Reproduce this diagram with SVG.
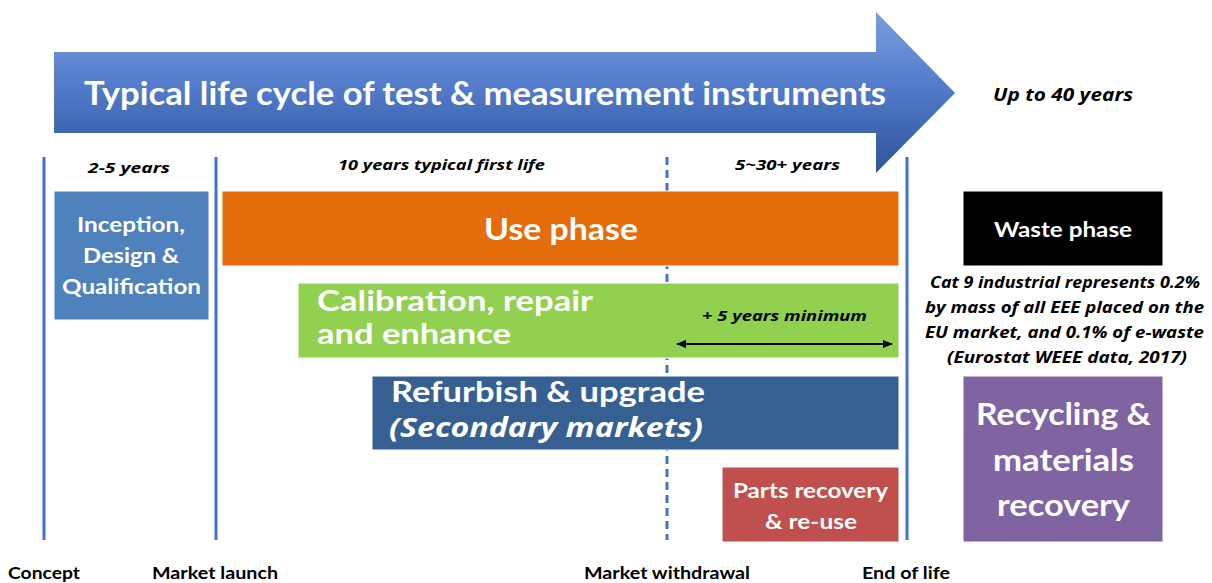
<svg xmlns="http://www.w3.org/2000/svg" width="1212" height="583" viewBox="0 0 1212 583">
<style>
text{font-family:Lato,"Open Sans","Liberation Sans",sans-serif;font-weight:bold}
text.it{font-family:"Open Sans",Lato,"Liberation Sans",sans-serif;font-style:italic}
.w{fill:#fff}
.k{fill:#000}
.mid{text-anchor:middle}
.vl{stroke:#4472c4;stroke-width:3;fill:none}
.box{stroke:#fff;stroke-width:1}
</style>
<defs>
<linearGradient id="ag" x1="0" y1="0" x2="0" y2="1">
<stop offset="0" stop-color="#7a9fdd"/>
<stop offset="0.5" stop-color="#4f78c8"/>
<stop offset="1" stop-color="#2f5597"/>
</linearGradient>
<marker id="ah" viewBox="0 0 10 10" refX="9" refY="5" markerWidth="5" markerHeight="5" orient="auto-start-reverse">
<path d="M0,1 L10,5 L0,9 z" fill="#000"/>
</marker>
</defs>

<g id="title-arrow">
<path d="M54,52 H876 V12 L955,93 L876,173 V133 H54 Z" fill="url(#ag)"/>
<text class="w mid" x="485" y="105" font-size="32" textLength="802" lengthAdjust="spacingAndGlyphs">Typical life cycle of test &amp; measurement instruments</text>
</g>
<text class="k it" x="993" y="101" font-size="17" textLength="140" lengthAdjust="spacingAndGlyphs">Up to 40 years</text>

<g id="timelines">
<line class="vl" x1="44" y1="157" x2="44" y2="540"/>
<line class="vl" x1="216" y1="157" x2="216" y2="540"/>
<line class="vl" x1="667" y1="157" x2="667" y2="540" stroke-dasharray="8 5"/>
<line class="vl" x1="907" y1="157" x2="907" y2="540"/>
</g>

<g id="period-labels">
<text class="k it mid" x="129" y="173" font-size="15" textLength="82" lengthAdjust="spacingAndGlyphs">2-5 years</text>
<text class="k it mid" x="441.5" y="170" font-size="15" textLength="207" lengthAdjust="spacingAndGlyphs">10 years typical first life</text>
<text class="k it mid" x="787.5" y="170" font-size="15" textLength="105" lengthAdjust="spacingAndGlyphs">5~30+ years</text>
</g>

<g id="inception">
<rect class="box" x="54" y="191" width="155" height="129" fill="#4f81bd"/>
<text class="w mid" x="131" y="232" font-size="21" textLength="108" lengthAdjust="spacingAndGlyphs">Inception,</text>
<text class="w mid" x="131" y="263" font-size="21" textLength="96" lengthAdjust="spacingAndGlyphs">Design &amp;</text>
<text class="w mid" x="131.5" y="294" font-size="21" textLength="139" lengthAdjust="spacingAndGlyphs">Qualification</text>
</g>

<g id="use-phase">
<rect class="box" x="222" y="191" width="677" height="75" fill="#e46c0a"/>
<text class="w mid" x="561" y="240" font-size="31" textLength="154" lengthAdjust="spacingAndGlyphs">Use phase</text>
</g>

<g id="calibration">
<rect class="box" x="298" y="283" width="601" height="75" fill="#92d050"/>
<text class="w" x="317" y="311" font-size="29" textLength="276" lengthAdjust="spacingAndGlyphs">Calibration, repair</text>
<text class="w" x="317" y="344" font-size="29" textLength="194" lengthAdjust="spacingAndGlyphs">and enhance</text>
<text class="k it mid" x="784.5" y="321" font-size="15" textLength="165" lengthAdjust="spacingAndGlyphs">+ 5 years minimum</text>
</g>

<g id="connectors">
<line x1="677" y1="344" x2="892" y2="344" stroke="#000" stroke-width="2" marker-start="url(#ah)" marker-end="url(#ah)"/>
</g>

<g id="refurbish">
<rect class="box" x="372" y="376" width="527" height="74" fill="#376092"/>
<text class="w" x="391" y="402" font-size="29" textLength="314" lengthAdjust="spacingAndGlyphs">Refurbish &amp; upgrade</text>
<text class="w it" x="389" y="437" font-size="26" textLength="314" lengthAdjust="spacingAndGlyphs">(Secondary markets)</text>
</g>

<g id="parts">
<rect class="box" x="722" y="467" width="177" height="75" fill="#c0504d"/>
<text class="w mid" x="810.5" y="498" font-size="20" textLength="155" lengthAdjust="spacingAndGlyphs">Parts recovery</text>
<text class="w mid" x="811" y="529" font-size="20" textLength="92" lengthAdjust="spacingAndGlyphs">&amp; re-use</text>
</g>

<g id="waste">
<rect class="box" x="963" y="191" width="200" height="75" fill="#000"/>
<text class="w mid" x="1063" y="237" font-size="21" textLength="138" lengthAdjust="spacingAndGlyphs">Waste phase</text>
</g>

<g id="waste-note">
<text class="k it mid" x="1065" y="288" font-size="16" textLength="270" lengthAdjust="spacingAndGlyphs">Cat 9 industrial represents 0.2%</text>
<text class="k it mid" x="1064.5" y="313" font-size="16" textLength="279" lengthAdjust="spacingAndGlyphs">by mass of all EEE placed on the</text>
<text class="k it mid" x="1064.5" y="338" font-size="16" textLength="279" lengthAdjust="spacingAndGlyphs">EU market, and 0.1% of e-waste</text>
<text class="k it mid" x="1067" y="363" font-size="16" textLength="240" lengthAdjust="spacingAndGlyphs">(Eurostat WEEE data, 2017)</text>
</g>

<g id="recycling">
<rect class="box" x="963" y="376" width="200" height="166" fill="#8064a2"/>
<text class="w mid" x="1063.5" y="425" font-size="30" textLength="175" lengthAdjust="spacingAndGlyphs">Recycling &amp;</text>
<text class="w mid" x="1063.5" y="471" font-size="30" textLength="141" lengthAdjust="spacingAndGlyphs">materials</text>
<text class="w mid" x="1063.5" y="516" font-size="30" textLength="133" lengthAdjust="spacingAndGlyphs">recovery</text>
</g>

<g id="milestones">
<text class="k" x="8" y="579" font-size="17" textLength="72" lengthAdjust="spacingAndGlyphs">Concept</text>
<text class="k" x="152" y="579" font-size="17" textLength="126" lengthAdjust="spacingAndGlyphs">Market launch</text>
<text class="k" x="584" y="579" font-size="17" textLength="166" lengthAdjust="spacingAndGlyphs">Market withdrawal</text>
<text class="k" x="862" y="579" font-size="17" textLength="88" lengthAdjust="spacingAndGlyphs">End of life</text>
</g>
</svg>
